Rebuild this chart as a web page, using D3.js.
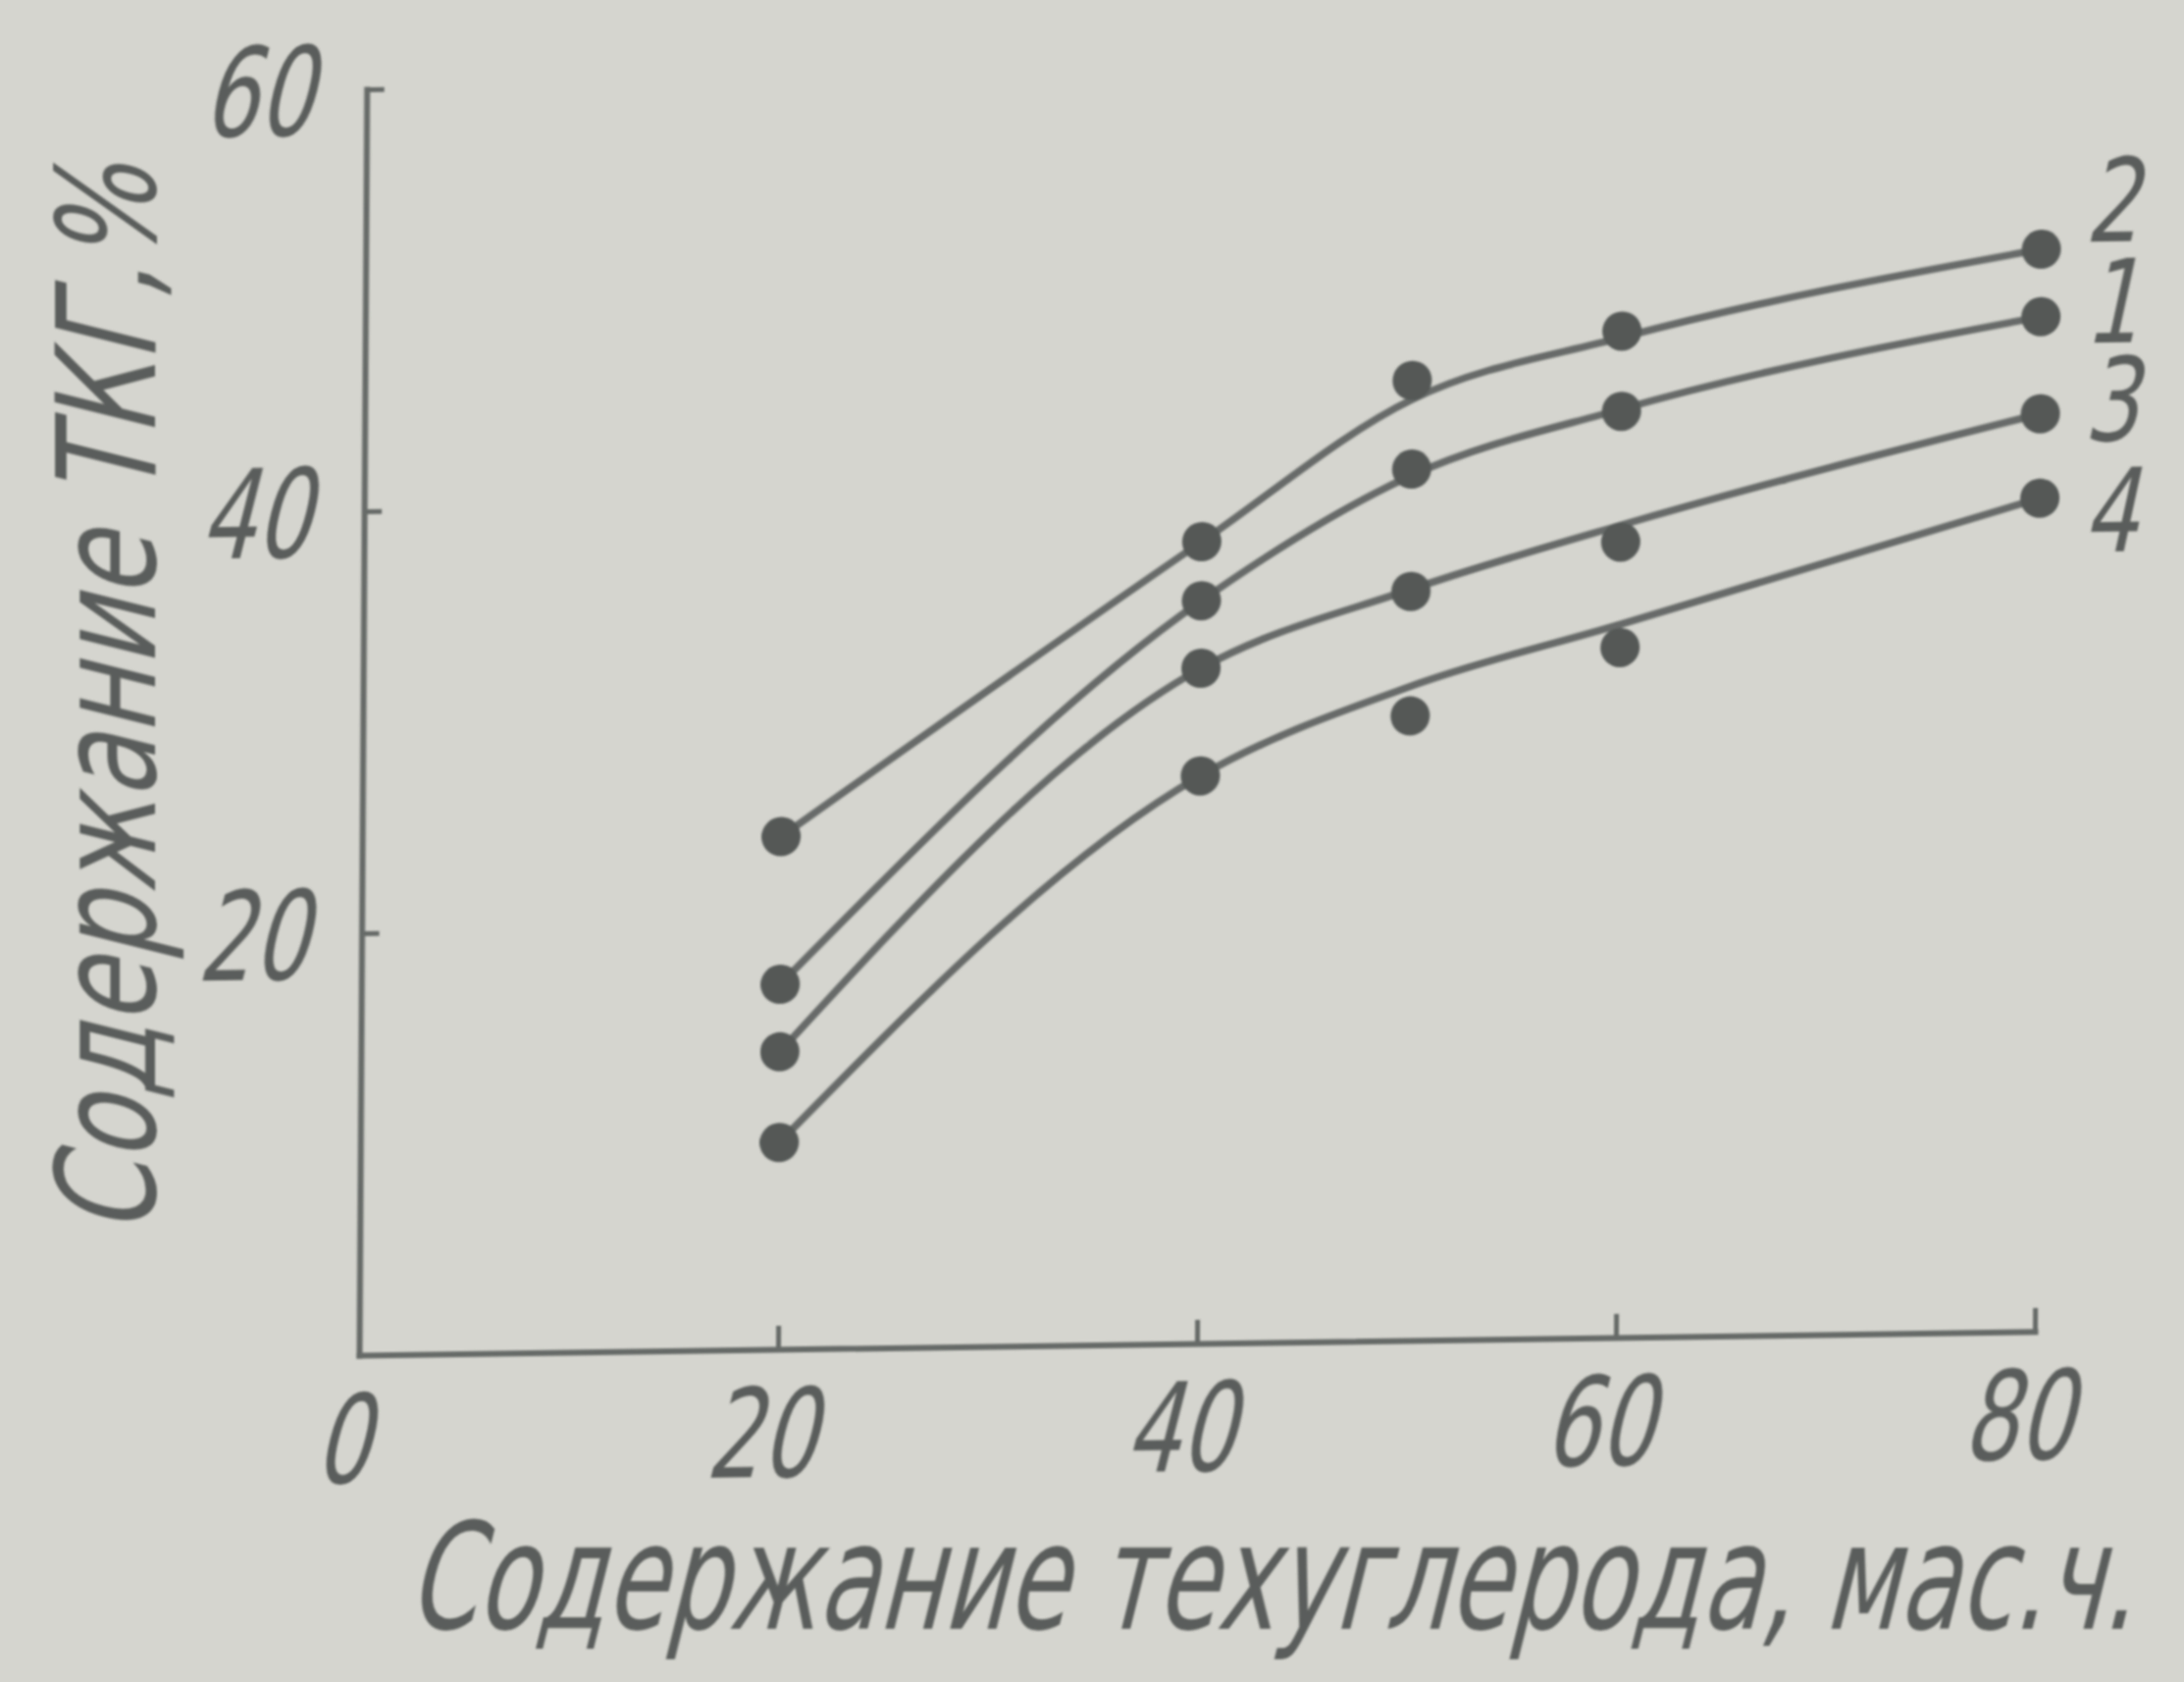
<!DOCTYPE html>
<html>
<head>
<meta charset="utf-8">
<script src="https://cdn.jsdelivr.net/npm/d3@7"></script>
<style>
  html, body { margin: 0; padding: 0; background: #d5d5cf; }
  svg { display: block; }
  text { font-family: "DejaVu Sans", "Liberation Sans", sans-serif; fill: #5a5d5b; }
</style>
</head>
<body>
<svg id="chart" width="2226" height="1714"></svg>
<script>
// ---------- data ----------
const xValues = [20, 40, 50, 60, 80];
const seriesNames = ["1", "2", "3", "4"];
// measured points (dots)
const points1 = [17.3, 35.2, 41.3, 43.9, 48.1];
const points2 = [24.3, 38.0, 45.5, 47.7, 51.3];
const points3 = [14.1, 32.0, 35.5, 37.7, 43.5];
const points4 = [9.8, 26.9, 29.6, 32.7, 39.5];
// smoothed curves drawn through the points
const curve1 = [17.3, 35.2, 41.0, 44.0, 48.1];
const curve2 = [24.3, 38.0, 44.6, 47.4, 51.3];
const curve3 = [14.1, 32.0, 35.6, 38.5, 43.5];
const curve4 = [9.8, 26.9, 31.0, 33.8, 39.5];
const xTicks = [20, 40, 60, 80];
const xTickLabels = [0, 20, 40, 60, 80];
const yTicks = [20, 40, 60];
const yTickLabels = [20, 40, 60];
const xTitle = "Содержание техуглерода, мас.ч.";
const yTitle = "Содержание ТКГ,%";

// ---------- drawing ----------
const svg = d3.select("#chart");
const defs = svg.append("defs");
defs.append("filter").attr("id", "soft")
  .attr("x", "-5%").attr("y", "-5%").attr("width", "110%").attr("height", "110%")
  .append("feGaussianBlur").attr("stdDeviation", 1.3);

const root = svg.append("g").attr("filter", "url(#soft)");

const x = d3.scaleLinear().domain([0, 80]).range([0, 1708]);
const y = d3.scaleLinear().domain([0, 60]).range([0, -1290]);

// slight skew of the scanned drawing
const g = root.append("g").attr("transform", "matrix(1,-0.0141,-0.006,1,366,1381)");

const axisColor = "#666a68";

const xAxis = d3.axisBottom(x).tickValues(xTicks).tickSize(-24).tickSizeOuter(0).tickFormat("");
const gx = g.append("g").call(xAxis);
const yAxis = d3.axisLeft(y).tickValues(yTicks).tickSize(-18).tickSizeOuter(0).tickFormat("");
const gy = g.append("g").call(yAxis);
[gx, gy].forEach(a => {
  a.select(".domain").attr("stroke", axisColor).attr("stroke-width", 6).attr("stroke-linecap", "square");
  a.selectAll(".tick line").attr("stroke", axisColor).attr("stroke-width", 5);
  a.selectAll(".tick text").remove();
});

// tick labels (italic, narrow drafting style)
g.selectAll(".xlab").data(xTickLabels).join("text")
  .attr("class", "xlab")
  .attr("text-anchor", "middle")
  .attr("font-size", 126)
  .attr("transform", d => `translate(${x(d) - 18},${130}) skewX(-14) scale(0.7,1)`)
  .text(d => d);

g.selectAll(".ylab").data(yTickLabels).join("text")
  .attr("class", "ylab")
  .attr("text-anchor", "end")
  .attr("font-size", 126)
  .attr("transform", d => `translate(${-56},${y(d) + 46}) skewX(-14) scale(0.7,1)`)
  .text(d => d);

// series
const series = [
  { name: seriesNames[0], pts: points1, crv: curve1, labelDy: -16 },
  { name: seriesNames[1], pts: points2, crv: curve2, labelDy: -50 },
  { name: seriesNames[2], pts: points3, crv: curve3, labelDy: -15 },
  { name: seriesNames[3], pts: points4, crv: curve4, labelDy: 12 }
];

const line = d3.line()
  .x((d, i) => x(xValues[i]))
  .y(d => y(d))
  .curve(d3.curveMonotoneX);

g.selectAll(".curve").data(series).join("path")
  .attr("class", "curve")
  .attr("d", s => line(s.crv))
  .attr("fill", "none")
  .attr("stroke", "#676b69")
  .attr("stroke-width", 7.5)
  .attr("stroke-linecap", "round");

series.forEach(s => {
  g.selectAll(null).data(s.pts).join("circle")
    .attr("cx", (d, i) => x(xValues[i]))
    .attr("cy", d => y(d))
    .attr("r", 20)
    .attr("fill", "#545856");
});

// series labels at the right end
g.selectAll(".slab").data(series).join("text")
  .attr("class", "slab")
  .attr("text-anchor", "middle")
  .attr("font-size", 118)
  .attr("transform", s => {
    const last = s.pts.length - 1;
    return `translate(${x(xValues[last]) + 72},${y(s.pts[last]) + s.labelDy + 43}) skewX(-12) scale(0.75,1)`;
  })
  .text(s => s.name);

// axis titles: condensed by a horizontal scale so they keep the reference widths
function condensedTitle(txt, size, targetLen, baseTransform) {
  const t = root.append("text").attr("font-size", size).text(txt);
  const natural = t.node().getComputedTextLength();
  const sx = targetLen / natural;
  t.attr("transform", `${baseTransform} skewX(-14) scale(${sx},1)`);
  return t;
}
condensedTitle(xTitle, 150, 1760, "translate(414,1660)");
condensedTitle(yTitle, 140, 1090, "translate(158,1259) rotate(-90)");
</script>
</body>
</html>
